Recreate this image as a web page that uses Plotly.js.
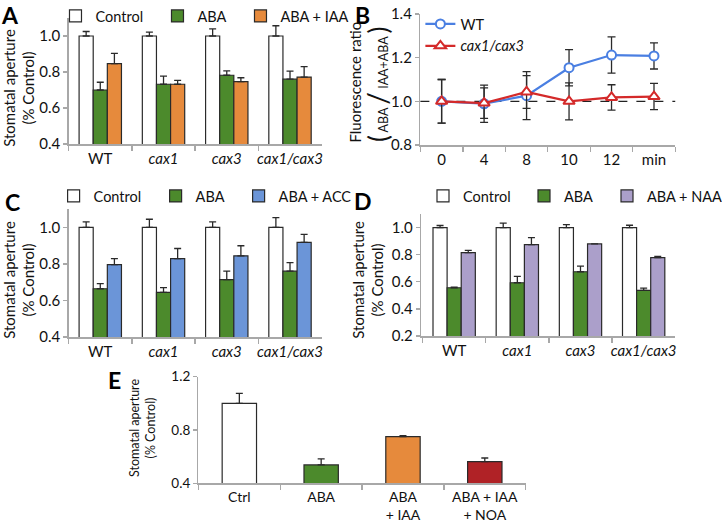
<!DOCTYPE html>
<html>
<head>
<meta charset="utf-8">
<script src="https://cdn.plot.ly/plotly-3.0.1.min.js"></script>
<style>html,body{margin:0;padding:0;background:#fff;}#chart{width:722px;height:525px;}</style>
</head>
<body>
<div id="chart"></div>
<script>
// ---------- data ----------
const genotypes = ['WT', 'cax1', 'cax3', 'cax1/cax3'];
const genotypeLabels = ['WT', '<i>cax1</i>', '<i>cax3</i>', '<i>cax1/cax3</i>'];

// Panel A
const aControl = [1.0, 1.0, 1.0, 1.0];
const aControlErr = [0.025, 0.022, 0.04, 0.057];
const aABA = [0.70, 0.732, 0.782, 0.76];
const aABAErr = [0.043, 0.045, 0.024, 0.045];
const aIAA = [0.846, 0.732, 0.746, 0.772];
const aIAAErr = [0.058, 0.022, 0.022, 0.058];

// Panel B
const timeLabels = ['0', '4', '8', '10', '12', 'min'];
const bWT = [1.0, 0.989, 1.026, 1.154, 1.212, 1.208];
const bWTErr = [0.1, 0.085, 0.11, 0.083, 0.083, 0.06];
const bCax = [1.0, 0.992, 1.043, 1.0, 1.018, 1.022];
const bCaxErr = [0.1, 0.07, 0.075, 0.085, 0.058, 0.06];

// Panel C
const cControl = [1.0, 1.0, 1.0, 1.0];
const cControlErr = [0.03, 0.044, 0.03, 0.053];
const cABA = [0.664, 0.644, 0.714, 0.76];
const cABAErr = [0.028, 0.026, 0.046, 0.047];
const cACC = [0.796, 0.829, 0.844, 0.917];
const cACCErr = [0.033, 0.055, 0.055, 0.044];

// Panel D
const dControl = [1.0, 1.0, 1.0, 1.0];
const dControlErr = [0.015, 0.032, 0.022, 0.017];
const dABA = [0.556, 0.593, 0.674, 0.536];
const dABAErr = [0.005, 0.047, 0.042, 0.017];
const dNAA = [0.815, 0.874, 0.879, 0.778];
const dNAAErr = [0.017, 0.052, 0, 0.01];

// Panel E
const eTreatments = ['Ctrl', 'ABA', 'ABA + IAA', 'ABA + IAA + NOA'];
const eLabels = ['Ctrl', 'ABA', 'ABA<br>+ IAA', 'ABA + IAA<br>+ NOA'];
const eValues = [1.0, 0.538, 0.75, 0.563];
const eErr = [0.075, 0.045, 0.008, 0.027];

// ---------- styling ----------
const W = 722, H = 525;
const FONT = 'Lato, "Open Sans", sans-serif';
const AXC = '#a8a8a8';
const OUT = '#2a2a2a';
const C_CTRL = '#ffffff', C_ABA = '#4c8a2c', C_IAA = '#e68a3c', C_ACC = '#6b95d8', C_NAA = '#ab9fca', C_NOA = '#b02226';
const C_WT = '#4a7fe2', C_CAX = '#d42a2a';

const fx = (a, b) => [a / W, b / W];
const fy = (top, bottom) => [1 - bottom / H, 1 - top / H];
const zeros = n => new Array(n).fill(0);

function barTrace(x, y, err, color, name, xa, ya, legend, lw) {
  return {
    type: 'bar', x: x, y: y, name: name, xaxis: xa, yaxis: ya,
    legend: legend, legendwidth: lw,
    marker: {color: color, line: {color: OUT, width: 1.2}},
    error_y: {type: 'data', symmetric: false, array: err, arrayminus: zeros(err.length),
              color: OUT, thickness: 1.3, width: 3.5},
    hoverinfo: 'skip'
  };
}

const traces = [
  barTrace(genotypes, aControl, aControlErr, C_CTRL, 'Control', 'x', 'y', 'legend', 57),
  barTrace(genotypes, aABA, aABAErr, C_ABA, 'ABA', 'x', 'y', 'legend', 38),
  barTrace(genotypes, aIAA, aIAAErr, C_IAA, 'ABA + IAA', 'x', 'y', 'legend', 70),
  {
    type: 'scatter', mode: 'lines+markers', x: timeLabels, y: bWT, name: 'WT',
    xaxis: 'x2', yaxis: 'y2', legend: 'legend2',
    line: {color: C_WT, width: 2.2},
    marker: {symbol: 'circle', size: 9, color: '#fff', line: {color: C_WT, width: 2}},
    error_y: {type: 'data', array: bWTErr, color: OUT, thickness: 1.3, width: 4}
  },
  {
    type: 'scatter', mode: 'lines+markers', x: timeLabels, y: bCax, name: '<i>cax1/cax3</i>',
    xaxis: 'x2', yaxis: 'y2', legend: 'legend2',
    line: {color: C_CAX, width: 2.2},
    marker: {symbol: 'triangle-up', size: 10, color: '#fff', line: {color: C_CAX, width: 2}},
    error_y: {type: 'data', array: bCaxErr, color: OUT, thickness: 1.3, width: 4}
  },
  barTrace(genotypes, cControl, cControlErr, C_CTRL, 'Control', 'x3', 'y3', 'legend3', 57),
  barTrace(genotypes, cABA, cABAErr, C_ABA, 'ABA', 'x3', 'y3', 'legend3', 38),
  barTrace(genotypes, cACC, cACCErr, C_ACC, 'ABA + ACC', 'x3', 'y3', 'legend3', 70),
  barTrace(genotypes, dControl, dControlErr, C_CTRL, 'Control', 'x4', 'y4', 'legend4', 56),
  barTrace(genotypes, dABA, dABAErr, C_ABA, 'ABA', 'x4', 'y4', 'legend4', 38),
  barTrace(genotypes, dNAA, dNAAErr, C_NAA, 'ABA + NAA', 'x4', 'y4', 'legend4', 70),
  {
    type: 'bar', x: eTreatments, y: eValues, xaxis: 'x5', yaxis: 'y5', showlegend: false,
    width: 0.42,
    marker: {color: [C_CTRL, C_ABA, C_IAA, C_NOA], line: {color: OUT, width: 1.2}},
    error_y: {type: 'data', symmetric: false, array: eErr, arrayminus: zeros(eErr.length),
              color: OUT, thickness: 1.3, width: 3.5},
    hoverinfo: 'skip'
  }
];

function catAxis(domain, vals, text, anchor, range, fs) {
  return {
    domain: domain, anchor: anchor, type: 'category', range: range,
    tickmode: 'array', tickvals: vals, ticktext: text, tickson: 'boundaries', tickangle: 0,
    ticks: 'outside', ticklen: 5, tickwidth: 1.3, tickcolor: AXC,
    showline: true, linecolor: AXC, linewidth: 1.5, showgrid: false, zeroline: false,
    tickfont: {family: FONT, size: fs || 15, color: '#111'}, fixedrange: true
  };
}
function valAxis(domain, anchor, range, tick0, dtick, fs) {
  return {
    domain: domain, anchor: anchor, range: range, tick0: tick0, dtick: dtick, tickformat: '.1f',
    ticks: 'outside', ticklen: 4, tickwidth: 1.3, tickcolor: AXC,
    showline: true, linecolor: AXC, linewidth: 1.5, showgrid: false, zeroline: false,
    tickfont: {family: FONT, size: fs || 15, color: '#111'}, fixedrange: true
  };
}

function legendBox(x, y, orient) {
  return {
    x: x, y: y, xanchor: 'left', yanchor: 'top', orientation: orient,
    font: {family: FONT, size: 14.5, color: '#111'}, bgcolor: 'rgba(0,0,0,0)',
    itemclick: false, itemdoubleclick: false, traceorder: 'normal', tracegroupgap: 0
  };
}

const letterFont = {family: FONT, size: 23, color: '#000', weight: 'bold'};
function letter(t, x, y) {
  return {text: '<b>' + t + '</b>', x: x / W, y: 1 - y / H, xref: 'paper', yref: 'paper',
          showarrow: false, font: letterFont, xanchor: 'center', yanchor: 'middle'};
}
function ytitle(t, x, y, fs) {
  return {text: t, x: x / W, y: 1 - y / H, xref: 'paper', yref: 'paper', showarrow: false,
          textangle: -90, font: {family: FONT, size: fs || 15, color: '#111'},
          xanchor: 'center', yanchor: 'middle'};
}

const layout = {
  width: W, height: H, margin: {l: 0, r: 0, t: 0, b: 0},
  paper_bgcolor: '#fff', plot_bgcolor: '#fff',
  barmode: 'group', bargap: 0.33, bargroupgap: 0,
  font: {family: FONT, color: '#111'},
  xaxis: catAxis(fx(73, 342), genotypes, genotypeLabels, 'y', [-0.5, 3.5]),
  yaxis: valAxis(fy(18, 144), 'x', [0.4, 1.1], 0.4, 0.2),
  xaxis2: catAxis(fx(447, 718), timeLabels, timeLabels, 'y2', [-0.5, 5.5], 15),
  yaxis2: valAxis(fy(14, 145), 'x2', [0.8, 1.4], 0.8, 0.2),
  xaxis3: catAxis(fx(73, 342), genotypes, genotypeLabels, 'y3', [-0.5, 3.5]),
  yaxis3: valAxis(fy(209, 337), 'x3', [0.4, 1.1], 0.4, 0.2),
  xaxis4: catAxis(fx(448, 718), genotypes, genotypeLabels, 'y4', [-0.52, 3.5]),
  yaxis4: valAxis(fy(214, 336), 'x4', [0.2, 1.1], 0.2, 0.2),
  xaxis5: catAxis(fx(211, 559), eTreatments, eLabels, 'y5', [-0.5, 3.5], 14),
  yaxis5: valAxis(fy(376.7, 483.3), 'x5', [0.4, 1.2], 0.4, 0.4, 13.5),
  legend: legendBox(59 / W, 1, 'h'),
  legend2: legendBox(447 / W, 1 - 8 / H, 'v'),
  legend3: legendBox(57 / W, 1 - 180 / H, 'h'),
  legend4: legendBox(450 / W, 1 - 180 / H, 'h'),
  shapes: [{type: 'line', xref: 'x2 domain', yref: 'y2', x0: 0, x1: 1, y0: 1, y1: 1,
            layer: 'below', line: {color: '#222', width: 1.2, dash: 'dash'}}],
  annotations: [
    letter('A', 11, 15), letter('B', 385, 15), letter('C', 13, 202), letter('D', 386, 201), letter('E', 122, 380),
    ytitle('Stomatal aperture<br>(% Control)', 20, 88),
    ytitle('Fluorescence ratio', 377, 82),
    ytitle('<span style="font-size:26px">(</span> ABA <span style="font-size:28px">/</span> IAA+ABA <span style="font-size:26px">)</span>', 401, 84, 12.5),
    ytitle('Stomatal aperture<br>(% Control)', 20, 280),
    ytitle('Stomatal aperture<br>(% Control)', 391, 280),
    ytitle('Stomatal aperture<br>(% Control)', 151, 428, 12.5)
  ],
  showlegend: true
};

Plotly.newPlot('chart', traces, layout, {displayModeBar: false, staticPlot: true});
</script>
</body>
</html>
